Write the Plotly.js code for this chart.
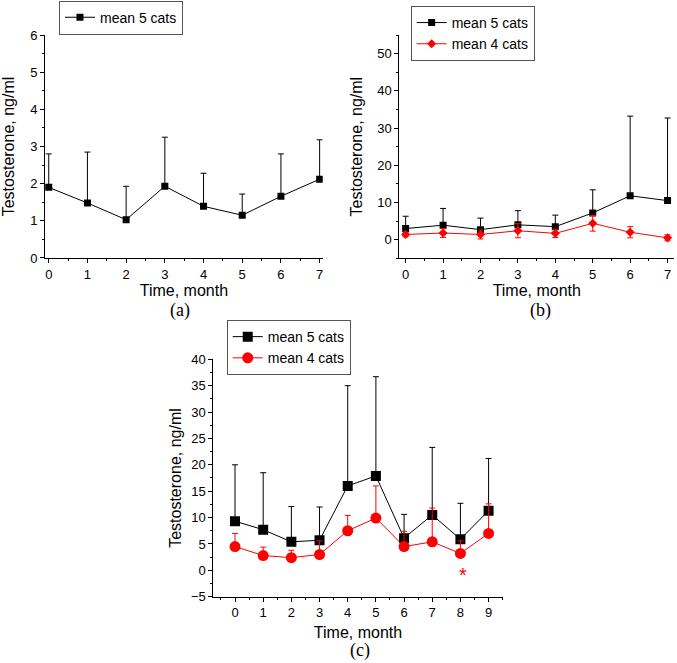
<!DOCTYPE html>
<html>
<head>
<meta charset="utf-8">
<script src="https://cdn.plot.ly/plotly-3.0.1.min.js"></script>
<style>html,body{margin:0;padding:0;background:#fff;}#chart{width:677px;height:663px;}</style>
</head>
<body>
<div id="chart"></div>
<script>
// ---- Data ----
var monthsA = [0, 1, 2, 3, 4, 5, 6, 7];
var aMean5 = [1.90, 1.48, 1.03, 1.93, 1.39, 1.15, 1.66, 2.12];
var aTop5  = [2.80, 2.85, 1.93, 3.25, 2.28, 1.72, 2.80, 3.18];

var monthsB = [0, 1, 2, 3, 4, 5, 6, 7];
var bMean5 = [3.0, 3.9, 2.7, 4.0, 3.5, 7.2, 11.8, 10.5];
var bTop5  = [6.3, 8.4, 5.8, 7.8, 6.6, 13.4, 33.2, 32.7];
var bMean4 = [1.4, 1.8, 1.4, 2.4, 1.7, 4.4, 2.0, 0.5];
var bSd4   = [0.6, 1.2, 1.2, 1.9, 1.1, 2.1, 1.5, 0.8];

var monthsC = [0, 1, 2, 3, 4, 5, 6, 7, 8, 9];
var cMean5 = [9.3, 7.7, 5.4, 5.7, 16.0, 17.9, 6.1, 10.5, 5.9, 11.3];
var cTop5  = [20.0, 18.5, 12.1, 12.0, 35.0, 36.7, 10.6, 23.3, 12.7, 21.2];
var cMean4 = [4.5, 2.8, 2.4, 3.0, 7.5, 9.9, 4.5, 5.4, 3.2, 7.0];
var cTop4  = [7.0, 4.4, 3.8, 5.6, 10.4, 16.0, 7.4, 11.8, 5.6, 12.6];

var seriesNames = ['mean 5 cats', 'mean 4 cats'];
var panelLabels = ['(a)', '(b)', '(c)'];
var xTitle = 'Time, month';
var yTitle = 'Testosterone, ng/ml';

function diff(top, mean) { return top.map(function (t, i) { return t - mean[i]; }); }
function zeros(arr) { return arr.map(function () { return 0; }); }

var BLACK = '#000000', RED = '#ff0000';

var traces = [
  { x: monthsA, y: aMean5, name: seriesNames[0], type: 'scatter', mode: 'lines+markers',
    xaxis: 'x', yaxis: 'y', legend: 'legend',
    line: { color: BLACK, width: 1 }, marker: { symbol: 'square', size: 7, color: BLACK },
    error_y: { type: 'data', symmetric: false, array: diff(aTop5, aMean5), arrayminus: zeros(aMean5),
      color: BLACK, thickness: 1, width: 3 } },
  { x: monthsB, y: bMean5, name: seriesNames[0], type: 'scatter', mode: 'lines+markers',
    xaxis: 'x2', yaxis: 'y2', legend: 'legend2',
    line: { color: BLACK, width: 1 }, marker: { symbol: 'square', size: 7, color: BLACK },
    error_y: { type: 'data', symmetric: false, array: diff(bTop5, bMean5), arrayminus: zeros(bMean5),
      color: BLACK, thickness: 1, width: 3 } },
  { x: monthsB, y: bMean4, name: seriesNames[1], type: 'scatter', mode: 'lines+markers',
    xaxis: 'x2', yaxis: 'y2', legend: 'legend2',
    line: { color: RED, width: 1 }, marker: { symbol: 'diamond', size: 7, color: RED },
    error_y: { type: 'data', symmetric: true, array: bSd4, color: RED, thickness: 1, width: 3 } },
  { x: monthsC, y: cMean5, name: seriesNames[0], type: 'scatter', mode: 'lines+markers',
    xaxis: 'x3', yaxis: 'y3', legend: 'legend3',
    line: { color: BLACK, width: 1 }, marker: { symbol: 'square', size: 10, color: BLACK },
    error_y: { type: 'data', symmetric: false, array: diff(cTop5, cMean5), arrayminus: zeros(cMean5),
      color: BLACK, thickness: 1, width: 3 } },
  { x: monthsC, y: cMean4, name: seriesNames[1], type: 'scatter', mode: 'lines+markers',
    xaxis: 'x3', yaxis: 'y3', legend: 'legend3',
    line: { color: RED, width: 1 }, marker: { symbol: 'circle', size: 11, color: RED },
    error_y: { type: 'data', symmetric: false, array: diff(cTop4, cMean4), arrayminus: zeros(cMean4),
      color: RED, thickness: 1, width: 3 } }
];

var FONT = 'Arial, "Liberation Sans", sans-serif';
function axis(extra) {
  var a = {
    showline: true, linecolor: BLACK, linewidth: 1, mirror: false,
    showgrid: false, zeroline: false,
    ticks: 'outside', ticklen: 4, tickwidth: 1, tickcolor: BLACK,
    tickfont: { family: FONT, size: 13, color: BLACK },
    title: { font: { family: FONT, size: 16, color: BLACK } }
  };
  for (var k in extra) {
    if (k === 'titleText') { a.title.text = extra[k]; }
    else if (k === 'standoff') { a.title.standoff = extra[k]; }
    else { a[k] = extra[k]; }
  }
  return a;
}

var legendBase = {
  bgcolor: 'rgba(255,255,255,1)', bordercolor: '#555555', borderwidth: 1,
  font: { family: FONT, size: 14, color: BLACK }, xanchor: 'left', yanchor: 'top',
  tracegroupgap: 0
};
function leg(x, y) { var l = JSON.parse(JSON.stringify(legendBase)); l.x = x; l.y = y; return l; }

var layout = {
  width: 677, height: 663,
  margin: { l: 0, r: 0, t: 0, b: 0 },
  paper_bgcolor: '#ffffff', plot_bgcolor: '#ffffff',
  showlegend: true,
  font: { family: FONT, color: BLACK },
  xaxis: axis({ domain: [0.0665, 0.4767], range: [-0.096, 7.08], dtick: 1, tick0: 0, anchor: 'y',
    minor: { dtick: 0.5, ticklen: 2, ticks: 'outside', tickcolor: BLACK },
    titleText: xTitle, standoff: 2 }),
  yaxis: axis({ domain: [0.6109, 0.9472], range: [0, 6], dtick: 1, tick0: 0, anchor: 'x',
    minor: { dtick: 0.5, ticklen: 2, ticks: 'outside', tickcolor: BLACK },
    titleText: yTitle, standoff: 11 }),
  xaxis2: axis({ domain: [0.5898, 0.996], range: [-0.17, 7.18], dtick: 1, tick0: 0, anchor: 'y2',
    minor: { dtick: 0.5, ticklen: 2, ticks: 'outside', tickcolor: BLACK },
    titleText: xTitle, standoff: 2 }),
  yaxis2: axis({ domain: [0.6104, 0.9472], range: [-5, 55], dtick: 10, tick0: 0, anchor: 'x2',
    minor: { dtick: 5, ticklen: 2, ticks: 'outside', tickcolor: BLACK },
    titleText: yTitle, standoff: 10 }),
  xaxis3: axis({ domain: [0.3151, 0.7425], range: [-0.77, 9.5], dtick: 1, tick0: 0, anchor: 'y3',
    minor: { dtick: 0.5, ticklen: 2, ticks: 'outside', tickcolor: BLACK },
    titleText: xTitle, standoff: 7 }),
  yaxis3: axis({ domain: [0.1, 0.4581], range: [-5, 40], dtick: 5, tick0: 0, anchor: 'x3',
    minor: { dtick: 2.5, ticklen: 2, ticks: 'outside', tickcolor: BLACK },
    titleText: yTitle, standoff: 5 }),
  legend: leg(0.0871, 0.999),
  legend2: leg(0.6066, 0.991),
  legend3: leg(0.3349, 0.5173),
  annotations: [
    { text: panelLabels[0], xref: 'paper', yref: 'paper', x: 180 / 677, y: 1 - 310 / 663,
      xanchor: 'center', yanchor: 'middle', showarrow: false,
      font: { family: '"Liberation Serif", "Times New Roman", serif', size: 18, color: BLACK } },
    { text: panelLabels[1], xref: 'paper', yref: 'paper', x: 540 / 677, y: 1 - 310 / 663,
      xanchor: 'center', yanchor: 'middle', showarrow: false,
      font: { family: '"Liberation Serif", "Times New Roman", serif', size: 18, color: BLACK } },
    { text: panelLabels[2], xref: 'paper', yref: 'paper', x: 360 / 677, y: 1 - 650 / 663,
      xanchor: 'center', yanchor: 'middle', showarrow: false,
      font: { family: '"Liberation Serif", "Times New Roman", serif', size: 18, color: BLACK } },
    { text: '*', xref: 'x3', yref: 'y3', x: 8.1, y: -0.9,
      xanchor: 'center', yanchor: 'middle', showarrow: false,
      font: { family: FONT, size: 20, color: RED } }
  ]
};

Plotly.newPlot('chart', traces, layout, { displayModeBar: false, staticPlot: true });
</script>
</body>
</html>
